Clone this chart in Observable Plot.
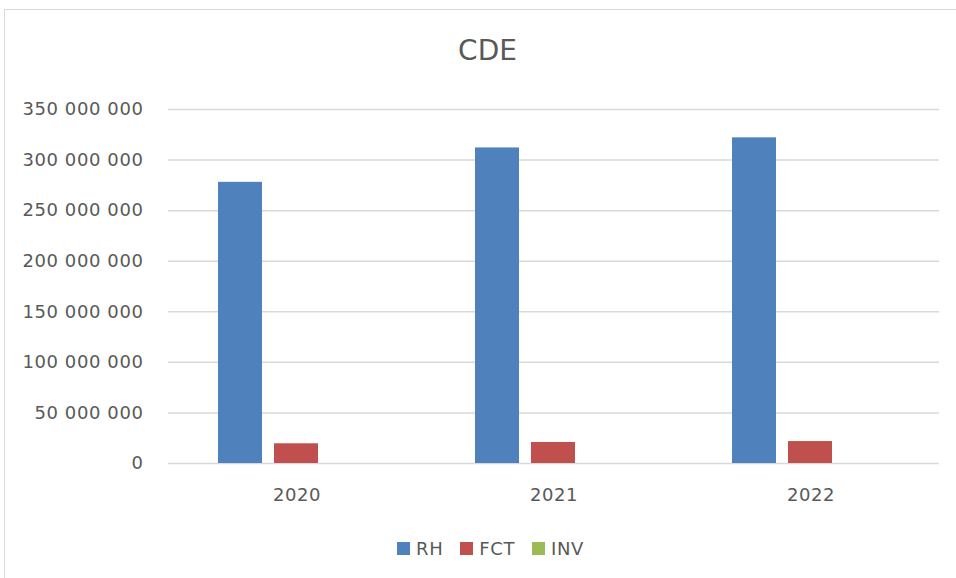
<!DOCTYPE html>
<html>
<head>
<meta charset="utf-8">
<script src="https://cdn.jsdelivr.net/npm/d3@7"></script>
<script src="https://cdn.jsdelivr.net/npm/@observablehq/plot@0.6"></script>
<style>
  html, body { margin: 0; padding: 0; background: #fff; overflow: hidden; width: 956px; height: 578px; }
  #frame { position: absolute; left: 4px; top: 9px; width: 1000px; height: 700px; border: 1.5px solid #d9d9d9; box-sizing: border-box; }
  #title { position: absolute; left: 0; top: 34px; width: 975px; text-align: center; font-family: "DejaVu Sans", sans-serif; font-size: 28px; color: #595959; }
  #chart { position: absolute; left: 0; top: 95px; }
  #legend { position: absolute; left: 0; top: 532px; width: 981px; display: flex; justify-content: center; }
  .lg-swatches-wrap { justify-content: center; margin: 0 !important; }
  .lg-swatches-wrap .lg-swatch { margin-right: 17px !important; }
  .lg-swatches-wrap .lg-swatch:last-child { margin-right: 0 !important; }
  .lg-swatch > svg { margin-right: 6px !important; }
</style>
</head>
<body>
<div id="frame"></div>
<div id="title">CDE</div>
<div id="chart"></div>
<div id="legend"></div>
<script>
const years = ["2020", "2021", "2022"];
const series = ["RH", "FCT", "INV"];
const rh  = [278000000, 312000000, 322000000];
const fct = [19500000, 20800000, 21700000];
const inv = [0, 0, 0];
const yTicks = [0, 50000000, 100000000, 150000000, 200000000, 250000000, 300000000, 350000000];
const colors = ["#4F81BD", "#C0504D", "#9BBB59"];

const valuesBySeries = {RH: rh, FCT: fct, INV: inv};
const rows = [];
years.forEach((yr, i) => series.forEach(s => rows.push({year: yr, series: s, value: valuesBySeries[s][i]})));

const fmt = d3.formatLocale({decimal: ",", thousands: " ", grouping: [3], currency: ["", ""]}).format(",");
const textColor = "#595959";
const font = "DejaVu Sans, sans-serif";

const chart = Plot.plot({
  width: 956,
  height: 418,
  marginLeft: 168,
  marginRight: 17,
  marginTop: 14,
  marginBottom: 50,
  style: {fontFamily: font, fontSize: "18px", color: textColor, background: "transparent", letterSpacing: "0.6px"},
  fx: {domain: years, padding: 0, axis: "bottom", tickSize: 0, tickPadding: 25, label: null},
  x: {domain: series, axis: null, paddingInner: 0.2105, paddingOuter: 0.86},
  y: {domain: [0, 350000000], axis: null},
  color: {domain: series, range: colors},
  marks: [
    Plot.ruleY(yTicks, {stroke: "#d9d9d9", strokeWidth: 1.5}),
    Plot.axisY(yTicks, {tickSize: 0, tickPadding: 25, tickFormat: fmt, label: null, fill: textColor}),
    Plot.barY(rows, {fx: "year", x: "series", y: "value", fill: "series"})
  ]
});
document.getElementById("chart").appendChild(chart);

const legend = Plot.legend({
  color: {domain: series, range: colors},
  legend: "swatches",
  swatchSize: 13,
  className: "lg",
  style: {fontFamily: font, fontSize: "18px", color: textColor, letterSpacing: "0.6px"}
});
document.getElementById("legend").appendChild(legend);
</script>
</body>
</html>
